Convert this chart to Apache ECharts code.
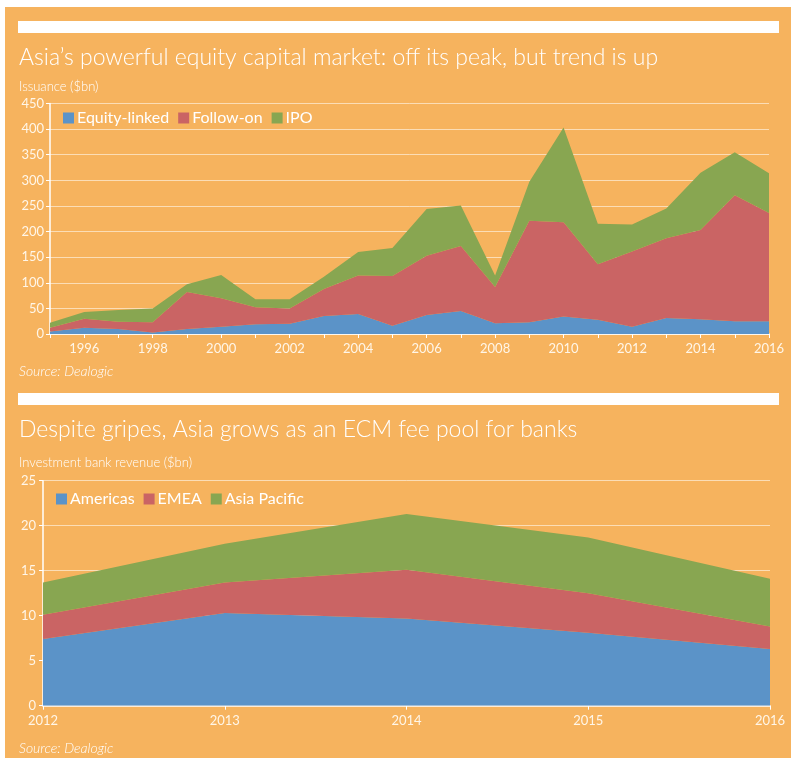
<!DOCTYPE html>
<html><head><meta charset="utf-8">
<script src="https://cdn.jsdelivr.net/npm/echarts@6/dist/echarts.min.js"></script>
<style>html,body{margin:0;padding:0;background:#fff}#c{width:800px;height:765px}</style>
</head><body><div id="c"></div>
<script>
// Top chart data
var years = ['1995','1996','1997','1998','1999','2000','2001','2002','2003','2004','2005','2006','2007','2008','2009','2010','2011','2012','2013','2014','2015','2016'];
var equityLinked = [5,12,10,3,10,14,19,20,35,39,16,37,45,21,23,34,28,14,31,29,25,25];
var followOn = [7,18,14,20,72,56,33,30,53,75,97,116,127,71,198,184,108,147,156,174,246,211];
var ipo = [10,13,23,27,15,45,16,18,24,46,55,91,79,22,76,185,79,53,58,112,84,78];
// Bottom chart data
var years2 = ['2012','2013','2014','2015','2016'];
var americas = [7.4,10.3,9.7,8.1,6.3];
var emea = [2.7,3.4,5.4,4.4,2.5];
var asiaPacific = [3.6,4.3,6.2,6.2,5.3];

var ORANGE = '#F6B35E', BLUE = '#5B93C8', RED = '#CA6464', GREEN = '#88A651';
var FONT = 'Lato';
var LBL = '#FFF6E8';

function area(name, data, color, xi) {
  return {name: name, type: 'line', stack: 'g' + xi, xAxisIndex: xi, yAxisIndex: xi, data: data,
    showSymbol: false, symbol: 'none', lineStyle: {width: 0}, areaStyle: {color: color, opacity: 1},
    itemStyle: {color: color}, emphasis: {disabled: true}, silent: true, animation: false};
}
function txt(t, x, y, size, italic) {
  return {type: 'text', x: x, y: y, style: {text: t, fill: '#fff', font: (italic ? 'italic ' : '') + '300 ' + size + 'px ' + FONT, textVerticalAlign: 'middle'}};
}

var chart = echarts.init(document.getElementById('c'), null, {renderer: 'canvas'});
chart.setOption({
  backgroundColor: '#fff',
  animation: false,
  graphic: [
    {type: 'rect', z: -10, shape: {x: 5, y: 7, width: 786, height: 751}, style: {fill: ORANGE}},
    {type: 'rect', z: -9, shape: {x: 18, y: 21, width: 761, height: 12}, style: {fill: '#fff'}},
    {type: 'rect', z: -9, shape: {x: 18, y: 393, width: 761, height: 12}, style: {fill: '#fff'}},
    txt("Asia\u2019s powerful equity capital market: off its peak, but trend is up", 19, 58, 23),
    txt('Issuance ($bn)', 19, 87, 13),
    txt('Source: Dealogic', 19, 371, 14, true),
    txt('Despite gripes, Asia grows as an ECM fee pool for banks', 19, 430, 23),
    txt('Investment bank revenue ($bn)', 19, 463, 13),
    txt('Source: Dealogic', 19, 748, 14, true)
  ],
  legend: [
    {left: 58, top: 105, itemWidth: 11, itemHeight: 11, itemGap: 9, icon: 'rect',
     data: ['Equity-linked','Follow-on','IPO'], textStyle: {color: '#fff', fontSize: 16, fontFamily: FONT, padding: [0,0,0,-2]}},
    {left: 51, top: 486, itemWidth: 11, itemHeight: 11, itemGap: 9, icon: 'rect',
     data: ['Americas','EMEA','Asia Pacific'], textStyle: {color: '#fff', fontSize: 16, fontFamily: FONT, padding: [0,0,0,-2]}}
  ],
  grid: [
    {left: 50, right: 31, top: 103.5, height: 230.5},
    {left: 43, right: 30, top: 480.7, height: 225}
  ],
  xAxis: [
    {type: 'category', gridIndex: 0, data: years, boundaryGap: false,
     axisLine: {lineStyle: {color: '#fff', width: 1.5}},
     axisTick: {show: true, interval: 0, length: 4, lineStyle: {color: '#fff'}},
     axisLabel: {color: LBL, fontSize: 13, fontFamily: FONT, margin: 8, interval: function (i) { return i % 2 === 1; }},
     splitLine: {show: false}},
    {type: 'category', gridIndex: 1, data: years2, boundaryGap: false,
     axisLine: {lineStyle: {color: '#fff', width: 1.5}},
     axisTick: {show: true, length: 4, lineStyle: {color: '#fff'}},
     axisLabel: {color: LBL, fontSize: 13, fontFamily: FONT, margin: 9},
     splitLine: {show: false}}
  ],
  yAxis: [
    {type: 'value', gridIndex: 0, min: 0, max: 450, interval: 50,
     axisLine: {show: true, lineStyle: {color: '#fff', width: 1.5}},
     axisTick: {show: true, length: 4, lineStyle: {color: '#fff'}},
     axisLabel: {color: LBL, fontSize: 13, fontFamily: FONT, margin: 6},
     splitLine: {lineStyle: {color: 'rgba(255,255,255,0.55)', width: 1}}},
    {type: 'value', gridIndex: 1, min: 0, max: 25, interval: 5,
     axisLine: {show: true, lineStyle: {color: '#fff', width: 1.5}},
     axisTick: {show: true, length: 4, lineStyle: {color: '#fff'}},
     axisLabel: {color: LBL, fontSize: 13, fontFamily: FONT, margin: 7},
     splitLine: {lineStyle: {color: 'rgba(255,255,255,0.55)', width: 1}}}
  ],
  series: [
    area('Equity-linked', equityLinked, BLUE, 0),
    area('Follow-on', followOn, RED, 0),
    area('IPO', ipo, GREEN, 0),
    area('Americas', americas, BLUE, 1),
    area('EMEA', emea, RED, 1),
    area('Asia Pacific', asiaPacific, GREEN, 1)
  ]
});
</script></body></html>
